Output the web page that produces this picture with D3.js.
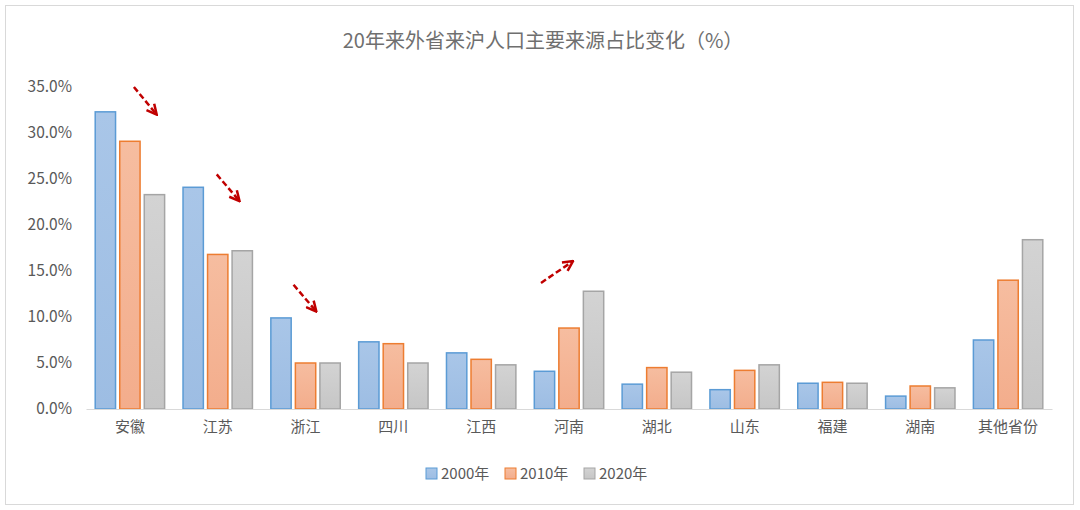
<!DOCTYPE html>
<html lang="zh">
<head>
<meta charset="UTF-8">
<title>20年来外省来沪人口主要来源占比变化</title>
<script src="https://d3js.org/d3.v7.min.js"></script>
<style>
  body { margin: 0; background: #fff; }
  text { font-family: "Noto Sans CJK SC", "Noto Sans", sans-serif; }
</style>
</head>
<body>
<div id="chart"></div>
<script>
// categories and series
const provinces = ["安徽", "江苏", "浙江", "四川", "江西", "河南", "湖北", "山东", "福建", "湖南", "其他省份"];
const years = ["2000年", "2010年", "2020年"];
const v2000 = [32.3, 24.1, 9.9, 7.3, 6.1, 4.1, 2.7, 2.1, 2.8, 1.4, 7.5];
const v2010 = [29.1, 16.8, 5.0, 7.1, 5.4, 8.8, 4.5, 4.2, 2.9, 2.5, 14.0];
const v2020 = [23.3, 17.2, 5.0, 5.0, 4.8, 12.8, 4.0, 4.8, 2.8, 2.3, 18.4];
const yTicks = [0, 5, 10, 15, 20, 25, 30, 35];
// annotation arrows: category, start/end value, horizontal offsets from band centre
const arrows = [
  { cat: "安徽", v0: 35.0, v1: 32.1, dx0: 4, dx1: 26 },
  { cat: "江苏", v0: 25.5, v1: 22.7, dx0: -1, dx1: 21 },
  { cat: "浙江", v0: 13.5, v1: 10.7, dx0: -12, dx1: 10 },
  { cat: "河南", v0: 13.7, v1: 16.0, dx0: -28, dx1: 3 }
];

const series = [v2000, v2010, v2020];
const fills = [["#a9c6e8", "#9dbde3"], ["#f6bda0", "#f3ad8c"], ["#d3d3d3", "#c6c6c6"]];
const strokes = ["#5b9bd5", "#ed7d31", "#a5a5a5"];

const W = 1080, H = 510;
const m = { top: 87, right: 28, bottom: 101, left: 86 };

const svg = d3.select("#chart").append("svg").attr("width", W).attr("height", H);

const defs = svg.append("defs");
fills.forEach((f, i) => {
  const g = defs.append("linearGradient").attr("id", "g" + i)
    .attr("x1", 0).attr("y1", 0).attr("x2", 0).attr("y2", 1);
  g.append("stop").attr("offset", "0%").attr("stop-color", f[0]);
  g.append("stop").attr("offset", "100%").attr("stop-color", f[1]);
});
const mk = defs.append("marker").attr("id", "ah").attr("viewBox", "0 0 10 10")
  .attr("refX", 8).attr("refY", 5).attr("markerWidth", 5).attr("markerHeight", 5)
  .attr("orient", "auto");
mk.append("path").attr("d", "M1,1 L9,5 L1,9").attr("fill", "none")
  .attr("stroke", "#c00000").attr("stroke-width", 2);

svg.append("rect").attr("x", 5.5).attr("y", 5.5).attr("width", W - 12).attr("height", H - 11)
  .attr("fill", "none").attr("stroke", "#d9d9d9");

svg.append("text").attr("x", W / 2 + 3).attr("y", 48).attr("text-anchor", "middle")
  .attr("font-size", 20).attr("fill", "#6f6f6f").text("20年来外省来沪人口主要来源占比变化（%）");

const x = d3.scaleBand().domain(provinces).range([m.left, W - m.right]).paddingInner(0).paddingOuter(0);
const x1 = d3.scaleBand().domain([0, 1, 2]).range([0, x.bandwidth()]).paddingInner(0.13).paddingOuter(0.355);
const y = d3.scaleLinear().domain([0, 35]).range([H - m.bottom, m.top]);

const gy = svg.append("g").attr("transform", `translate(${m.left},0)`)
  .call(d3.axisLeft(y).tickValues(yTicks).tickFormat(d => d.toFixed(1) + "%").tickSize(0).tickPadding(14));
gy.select(".domain").remove();
gy.selectAll("text").attr("font-size", 15.5).attr("fill", "#595959").attr("font-family", "'Liberation Sans', sans-serif");

const bars = svg.append("g");
series.forEach((vals, si) => {
  bars.selectAll(null).data(provinces.map((p, i) => ({ p, v: vals[i] }))).join("rect")
    .attr("x", d => x(d.p) + x1(si) + 0.5)
    .attr("y", d => y(d.v))
    .attr("width", x1.bandwidth() - 1)
    .attr("height", d => y(0) - y(d.v))
    .attr("fill", `url(#g${si})`)
    .attr("stroke", strokes[si]).attr("stroke-width", 1.5);
});

const gx = svg.append("g").attr("transform", `translate(0,${y(0)})`)
  .call(d3.axisBottom(x).tickSize(0).tickPadding(12));
gx.select(".domain").attr("stroke", "#d9d9d9").attr("stroke-width", 1.2);
gx.selectAll("text").attr("font-size", 15).attr("fill", "#595959");

svg.append("g").selectAll("line").data(arrows).join("line")
  .attr("x1", d => x(d.cat) + x.bandwidth() / 2 + d.dx0)
  .attr("x2", d => x(d.cat) + x.bandwidth() / 2 + d.dx1)
  .attr("y1", d => y(d.v0)).attr("y2", d => y(d.v1))
  .attr("stroke", "#c00000").attr("stroke-width", 2.5).attr("stroke-dasharray", "6,3")
  .attr("marker-end", "url(#ah)");

const leg = svg.append("g").attr("transform", `translate(426,474)`);
years.forEach((yr, i) => {
  const g = leg.append("g").attr("transform", `translate(${i * 79},0)`);
  g.append("rect").attr("x", 0).attr("y", -6).attr("width", 11).attr("height", 11)
    .attr("fill", `url(#g${i})`).attr("stroke", strokes[i]);
  g.append("text").attr("x", 15).attr("y", 5).attr("font-size", 15).attr("fill", "#595959").text(yr);
});
</script>
</body>
</html>
